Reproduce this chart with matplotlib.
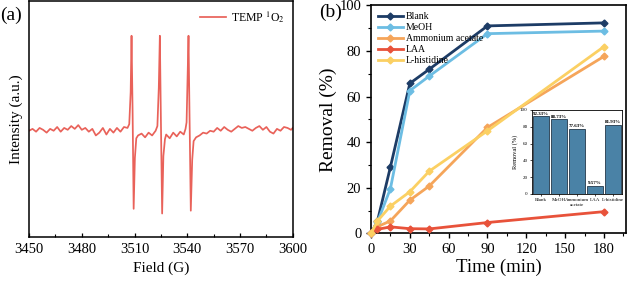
import matplotlib
matplotlib.use("Agg")
import matplotlib.pyplot as plt
from matplotlib.ticker import MultipleLocator

plt.rcParams["font.family"] = ["Liberation Serif", "DejaVu Serif"]
plt.rcParams["mathtext.fontset"] = "stix"

# ---- (a) EPR spectrum ----
field = [3450, 3452, 3454, 3456, 3458, 3460, 3462, 3464, 3466, 3468, 3470, 3472,
         3474, 3476, 3478, 3480, 3482, 3484, 3486, 3488, 3490, 3492, 3494, 3496,
         3498, 3500, 3502, 3504, 3506, 3507, 3507.8, 3508.3, 3508.9, 3509.5,
         3510.2, 3511, 3512, 3514, 3516, 3518, 3520, 3522, 3523, 3523.8, 3524.4,
         3525, 3525.7, 3526.4, 3527.3, 3528, 3530, 3532, 3534, 3536, 3538, 3539,
         3539.6, 3540.1, 3540.7, 3541.3, 3542, 3542.8, 3543.6, 3545, 3547, 3549,
         3551, 3553, 3555, 3557, 3559, 3561, 3563, 3565, 3567, 3569, 3571, 3573,
         3575, 3577, 3579, 3581, 3583, 3585, 3587, 3589, 3591, 3593, 3595, 3597,
         3599, 3600]
intensity = [-1, 1, -2, 2, 0, -3, 1, -1, 3, -2, 2, 0, 4, 1, 5, 0, 2, -2, 1, -6,
             -3, 2, -5, 1, -3, 2, -2, 3, 2, 6, 40, 100, 20, -84, -30, -9, -6, -4,
             -8, -3, -6, -1, 4, 45, 100, 10, -89, -28, -10, -5, -9, -3, -7, -2,
             -5, 1, 8, 50, 100, 12, -86, -32, -12, -8, -6, -3, -4, -1, -2, 2, -1,
             3, 0, -2, 1, 4, 2, 3, 1, -1, 2, 4, 0, 3, -2, -4, 1, -1, 3, 2, 0, 2]

# ---- (b) removal kinetics ----
time_min = [0, 5, 15, 30, 45, 90, 180]
blank = [0, 5.5, 29.2, 65.8, 72.0, 91.0, 92.33]
meoh = [0, 5.0, 19.7, 62.6, 69.0, 87.6, 88.73]
ammonium_acetate = [0, 3.0, 5.5, 14.6, 20.8, 46.5, 77.63]
laa = [0, 1.8, 2.9, 2.1, 2.0, 4.8, 9.57]
l_histidine = [0, 5.5, 12.0, 18.3, 27.3, 45.0, 81.93]
series_names = ["Blank", "MeOH", "Ammonium acetate", "LAA", "L-histidine"]
series_colors = ["#1d3c66", "#6cbde3", "#f5a55a", "#e8523a", "#fbd063"]

# ---- (b) inset ----
bar_labels = ["Blank", "MeOH", "Ammonium\nacetate", "LAA", "L-histidine"]
bar_values = [92.33, 88.73, 77.63, 9.57, 81.93]

fig = plt.figure(figsize=(6.31, 2.83), dpi=100)

# panel (a)
ax1 = fig.add_axes([0.046, 0.1625, 0.418, 0.834])
ax1.plot(field, intensity, color="#e9625a", lw=1.25, label=r"TEMP $^{1}$O$_{2}$")
ax1.set_xlim(3450, 3600)
ax1.set_ylim(-114, 137)
ax1.xaxis.set_major_locator(MultipleLocator(30))
ax1.xaxis.set_minor_locator(MultipleLocator(15))
ax1.set_yticks([])
ax1.tick_params(axis="x", which="major", direction="in", length=3, width=0.9,
                labelsize=10.5, pad=4)
ax1.tick_params(axis="x", which="minor", direction="in", length=2, width=0.8)
for sp in ax1.spines.values():
    sp.set_linewidth(1.1)
ax1.set_xlabel("Field (G)", fontsize=11, labelpad=4)
ax1.set_ylabel("Intensity (a.u.)", fontsize=11, labelpad=4)
ax1.legend(loc="upper right", frameon=False, fontsize=8.5, handlelength=2.2,
           handletextpad=0.4, borderaxespad=0.3)
fig.text(0.0, 0.945, "(a)", fontsize=14, va="center", ha="left")

# panel (b)
ax2 = fig.add_axes([0.588, 0.175, 0.404, 0.806])
all_series = [blank, meoh, ammonium_acetate, laa, l_histidine]
for vals, name, col in zip(all_series, series_names, series_colors):
    ax2.plot(time_min, vals, color=col, lw=2.0, marker="D", markersize=3.5,
             label=name, clip_on=False, zorder=3)
ax2.set_xlim(0, 197)
ax2.set_ylim(0, 100)
ax2.xaxis.set_major_locator(MultipleLocator(30))
ax2.xaxis.set_minor_locator(MultipleLocator(15))
ax2.yaxis.set_major_locator(MultipleLocator(20))
ax2.yaxis.set_minor_locator(MultipleLocator(10))
ax2.tick_params(which="major", direction="out", length=3.5, width=1.0, labelsize=10.5)
ax2.tick_params(which="minor", direction="out", length=2, width=0.8)
for sp in ax2.spines.values():
    sp.set_linewidth(1.2)
ax2.set_xlabel("Time (min)", fontsize=13.5, labelpad=2)
ax2.set_ylabel("Removal (%)", fontsize=14, labelpad=2)
ax2.legend(loc="upper left", frameon=False, fontsize=7, handlelength=2.6,
           handletextpad=0.3, labelspacing=0.2, borderaxespad=0.3)
fig.text(0.505, 0.955, "(b)", fontsize=14, va="center", ha="left")

# inset bars
ax3 = fig.add_axes([0.843, 0.3145, 0.143, 0.297])
xs = list(range(len(bar_values)))
ax3.bar(xs, bar_values, width=0.85, color="#4a82a6", edgecolor="#23384a", linewidth=0.6)
for x, v in zip(xs, bar_values):
    ax3.text(x, v + 1, f"{v:.2f}%", ha="center", va="bottom", fontsize=3.6,
             fontweight="bold")
ax3.set_xlim(-0.5, 4.5)
ax3.set_ylim(0, 100)
ax3.set_xticks(xs)
ax3.set_xticklabels(bar_labels, fontsize=3.6)
ax3.yaxis.set_major_locator(MultipleLocator(20))
ax3.tick_params(length=1.5, width=0.5, labelsize=3.6, pad=1.5)
ax3.set_ylabel("Removal (%)", fontsize=4.6, labelpad=1.5)
for sp in ax3.spines.values():
    sp.set_linewidth(0.6)

fig.savefig("out.png", dpi=100)
